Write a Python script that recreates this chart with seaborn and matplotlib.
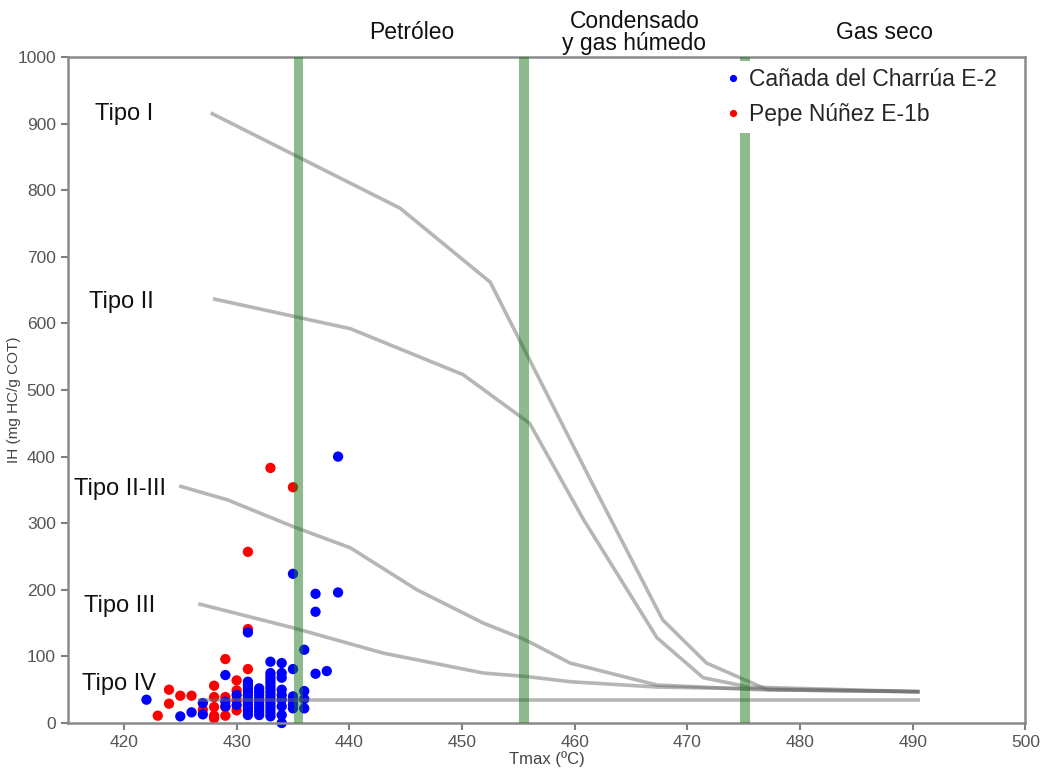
import matplotlib
matplotlib.use("Agg")
import matplotlib.pyplot as plt
import numpy as np
import pandas as pd
import seaborn as sns

# Maturation curves of kerogen types (Tmax vs IH)
tipo_i_x = [427.7, 444.5, 452.5, 461.4, 467.8, 471.7, 477.1, 490.6]
tipo_i_y = [916, 773, 662, 365, 155, 90, 50, 47]
tipo_ii_x = [427.9, 440.1, 450.1, 456.0, 460.8, 467.3, 471.4, 475.5, 490.6]
tipo_ii_y = [637, 592, 523, 450, 305, 128, 68, 54, 47]
tipo_iia_x = [424.9, 429.2, 435.0, 440.1, 446.0, 451.9, 455.6, 459.6, 467.3, 476.4, 490.6]
tipo_iia_y = [356, 335, 295, 263, 200, 150, 125, 90, 57, 50, 47]
tipo_iii_x = [426.6, 435.0, 443.0, 451.9, 455.6, 459.6, 467.3, 490.6]
tipo_iii_y = [179, 143, 105, 75, 70, 62, 54, 47]
tipo_iv_x = [426.6, 490.6]
tipo_iv_y = [35, 35]

curve_names = ["Tipo I", "Tipo II", "Tipo II-III", "Tipo III", "Tipo IV"]
label_x = [417.4, 416.9, 415.6, 416.5, 416.3]
label_y = [914, 632, 352, 175, 58]

# Window boundaries (oil / condensate-wet gas / dry gas)
window_edges = [435.5, 455.5, 475.1]
window_names = ["Petróleo", "Condensado\ny gas húmedo", "Gas seco"]
window_centers = [445.5, 465.3, 487.5]

# Cañada del Charrúa E-2
ccharrua_tmax = [422, 425, 426, 427, 427, 429, 429, 429, 430, 430,
                 431, 431, 431, 431, 431, 431, 431, 431, 431, 431, 431, 431,
                 432, 432, 432, 432, 432, 432, 432, 432, 432,
                 433, 433, 433, 433, 433, 433, 433, 433, 433, 433, 433, 433, 433, 433, 433,
                 434, 434, 434, 434, 434, 434, 434, 434, 434,
                 435, 435, 435, 435, 435, 435,
                 436, 436, 436, 436, 437, 437, 437, 438, 439, 439]
ccharrua_ih = [35, 10, 16, 30, 13, 72, 32, 25, 42, 27,
               136, 62, 57, 52, 47, 42, 37, 32, 27, 22, 17, 12,
               52, 47, 42, 37, 32, 27, 22, 17, 12,
               92, 75, 70, 65, 60, 55, 50, 45, 40, 35, 30, 25, 20, 15, 10,
               90, 75, 68, 50, 42, 35, 25, 12, 0,
               224, 81, 40, 35, 28, 22,
               110, 48, 36, 22, 194, 167, 74, 78, 400, 196]

# Pepe Núñez E-1b
pnunez_tmax = [423, 424, 424, 425, 426, 427, 428, 428, 428, 428, 428,
               429, 429, 429, 429, 430, 430, 430, 430, 431, 431, 431, 433, 435]
pnunez_ih = [11, 50, 29, 41, 41, 20, 56, 39, 24, 11, 7,
             96, 39, 24, 11, 64, 49, 34, 19, 257, 141, 81, 383, 354]

well_a = "Cañada del Charrúa E-2"
well_b = "Pepe Núñez E-1b"

sns.set_style("white")
plt.rcParams["font.family"] = ["Liberation Sans", "DejaVu Sans"]

fig = plt.figure(figsize=(10.48, 7.69), dpi=100)
ax = fig.add_axes([0.0645, 0.0598, 0.914, 0.8661])

# red well drawn first so the blue samples sit on top
df = pd.concat([
    pd.DataFrame({"Tmax": pnunez_tmax, "IH": pnunez_ih, "Pozo": well_b}),
    pd.DataFrame({"Tmax": ccharrua_tmax, "IH": ccharrua_ih, "Pozo": well_a}),
], ignore_index=True)

sns.scatterplot(data=df, x="Tmax", y="IH", hue="Pozo",
                hue_order=[well_a, well_b],
                palette={well_a: "#0000ff", well_b: "#ff0000"},
                s=55, linewidth=0, ax=ax, zorder=2, clip_on=False)

curves = [(tipo_i_x, tipo_i_y), (tipo_ii_x, tipo_ii_y), (tipo_iia_x, tipo_iia_y),
          (tipo_iii_x, tipo_iii_y), (tipo_iv_x, tipo_iv_y)]
for cx, cy in curves:
    ax.plot(cx, cy, color="#6e6e6e", alpha=0.5, lw=2.6, zorder=3,
            solid_capstyle="butt")

for name, lx, ly in zip(curve_names, label_x, label_y):
    ax.text(lx, ly, name, fontsize=17, ha="left", va="center", color="#111111")

for edge in window_edges:
    ax.axvspan(edge - 0.42, edge + 0.42, color="#1e781e", alpha=0.5, lw=0, zorder=4)

for name, cx in zip(window_names, window_centers):
    ax.text(cx, 1037, name, fontsize=16.5, ha="center", va="center",
            linespacing=0.95, color="#111111", clip_on=False)

ax.set_xlim(415, 500)
ax.set_ylim(0, 1000)
ax.set_xticks(np.arange(420, 501, 10))
ax.set_yticks(np.arange(0, 1001, 100))
ax.set_xlabel("Tmax (ºC)", fontsize=12, color="#444444", labelpad=1)
ax.set_ylabel("IH (mg HC/g COT)", fontsize=11, color="#444444")
ax.yaxis.set_label_coords(-0.049, 0.485)
ax.tick_params(axis="both", which="both", direction="out", length=5, width=1.5,
               color="#808080", labelcolor="#555555", labelsize=12.5,
               bottom=True, left=True)
for sp in ax.spines.values():
    sp.set_color("#8a8a8a")
    sp.set_linewidth(1.8)

leg = ax.legend(loc="upper right", bbox_to_anchor=(0.9896, 1.0105), fontsize=16.5,
                frameon=True, framealpha=1, edgecolor="none", facecolor="white",
                markerscale=0.7, handletextpad=-0.3, labelspacing=0.5,
                borderpad=0.3, title=None)
leg.set_zorder(5)

fig.savefig("out.png", dpi=100)
